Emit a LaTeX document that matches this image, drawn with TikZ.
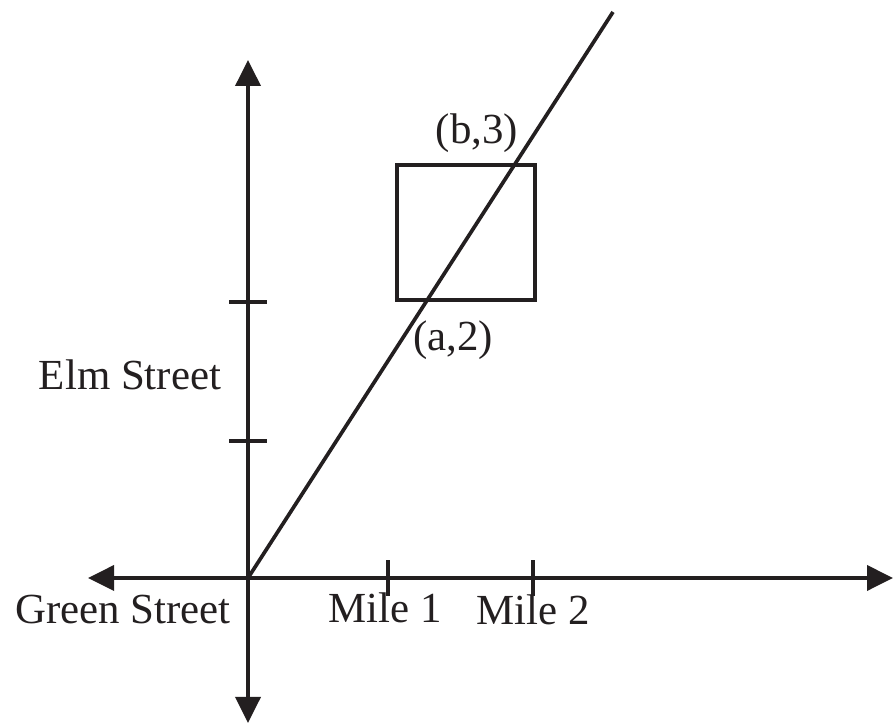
\documentclass[tikz,border=0pt]{standalone}
\usepackage{fontspec}
\setmainfont{Liberation Serif}
\usetikzlibrary{arrows.meta,positioning,calc}
\definecolor{inkblack}{RGB}{35,31,32}
\tikzset{
  street/.style={line width=1.05pt,color=inkblack},
  axisarrow/.style={street,{Triangle[length=0.26cm,width=0.25cm]}-{Triangle[length=0.26cm,width=0.25cm]}},
  streetlabel/.style={font=\fontsize{12.2}{14}\selectfont,color=inkblack,inner sep=0pt},
}
\begin{document}
\begin{tikzpicture}
\useasboundingbox (0,0) rectangle (8.93,7.23);
% axes
\coordinate (origin) at (2.48,1.45);
\coordinate (west) at (0.88,1.45);
\coordinate (east) at (8.93,1.45);
\coordinate (south) at (2.48,0);
\coordinate (north) at (2.48,6.63);
\draw[axisarrow](west)--(east);
\draw[axisarrow](south)--(north);
% ticks
\foreach \x in {3.88,5.33}
  \draw[street](\x,1.27)--(\x,1.63);
\foreach \y in {2.82,4.21}
  \draw[street](2.29,\y)--(2.67,\y);
% block and road
\node[street,draw,minimum width=1.38cm,minimum height=1.35cm,inner sep=0pt,anchor=south west]
  (block) at (3.95,4.21) {};
\coordinate (roadend) at (6.13,7.11);
\draw[street](origin)--(roadend);
% labels
\node[streetlabel](elm) at (1.30,3.48){Elm Street};
\node[streetlabel](green) at (1.23,1.13){Green Street};
\node[streetlabel](mileone) at (3.85,1.15){Mile 1};
\node[streetlabel](miletwo) at (5.33,1.13){Mile 2};
\node[streetlabel](bpt) at (4.77,5.90){(b,3)};
\node[streetlabel](apt) at (4.53,3.83){(a,2)};
\end{tikzpicture}
\end{document}
